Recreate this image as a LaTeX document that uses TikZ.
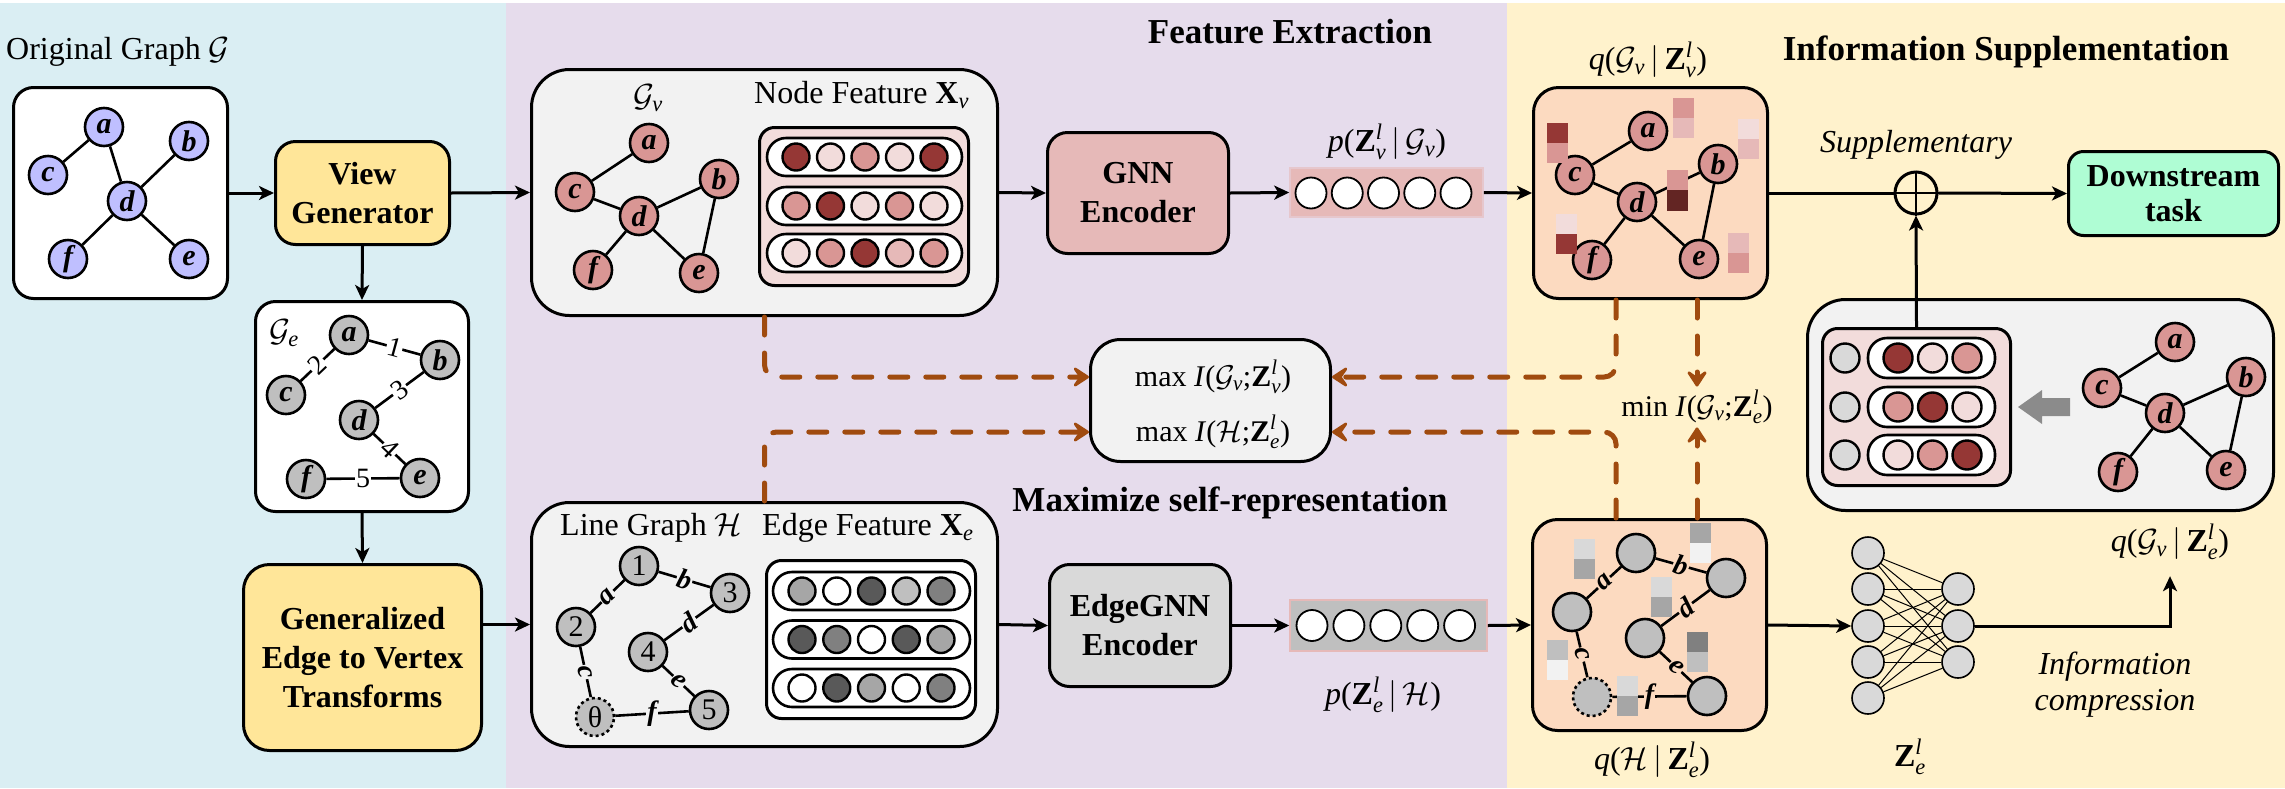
\RequirePackage{fix-cm}
\documentclass[tikz,border=0pt]{standalone}
\usepackage{amsmath}
\usepackage{fontspec}
\setmainfont{Liberation Serif}
\usetikzlibrary{arrows.meta}
\newcommand{\myfs}[1]{\fontsize{#1}{#1}\selectfont}
\newcommand{\Zl}[1]{\textbf{Z}^{\textit{l}}_{\textit{#1}}}
\newcommand{\myGv}{\mathcal{G}_{\textit{v}}}
\definecolor{bluebg}{RGB}{218,238,243}
\definecolor{purbg}{RGB}{230,220,236}
\definecolor{yelbg}{RGB}{255,242,204}
\definecolor{nblue}{RGB}{191,191,255}
\definecolor{vgy}{RGB}{255,230,153}
\definecolor{ngray}{RGB}{191,191,191}
\definecolor{boxg}{RGB}{242,242,242}
\definecolor{pk}{RGB}{217,150,148}
\definecolor{dr}{RGB}{149,55,53}
\definecolor{lp}{RGB}{242,220,219}
\definecolor{mp}{RGB}{230,185,184}
\definecolor{vdr}{RGB}{99,37,35}
\definecolor{peach}{RGB}{252,218,192}
\definecolor{mint}{RGB}{175,253,212}
\definecolor{brn}{RGB}{160,75,15}
\definecolor{ga}{RGB}{89,89,89}
\definecolor{gb}{RGB}{128,128,128}
\definecolor{gc}{RGB}{166,166,166}
\definecolor{gd}{RGB}{217,217,217}
\begin{document}
\begin{tikzpicture}[x=1pt,y=-1pt,
  bx/.style={draw, line width=3pt, rounded corners=18pt, inner sep=0pt},
  sz/.style n args={2}{minimum width=#1pt, minimum height=#2pt},
  gn/.style={circle, draw, line width=2.6pt, minimum size=38pt, inner sep=0pt, font=\myfs{30}\bfseries\itshape},
  hn/.style={circle, draw, line width=2.6pt, minimum size=38pt, inner sep=0pt, font=\myfs{30}, fill=ngray},
  ed/.style={line width=2.6pt},
  elab/.style={inner sep=1pt, font=\myfs{28}},
  hlab/.style={inner sep=1pt, font=\myfs{28}\bfseries\itshape},
  fc/.style={circle, draw, line width=2.4pt, minimum size=27pt, inner sep=0pt},
  rw/.style={draw, line width=2.6pt, fill=white, rounded corners=19pt, minimum height=38pt, inner sep=0pt},
  arr/.style={line width=3pt, -{Stealth[length=15pt,width=14pt,inset=4pt]}},
  darr/.style={draw=brn, line width=5pt, line cap=round, dash pattern=on 18pt off 18pt, rounded corners=12pt, -{Stealth[length=20pt,width=26pt,inset=9pt,round]}},
  lbl/.style={font=\myfs{32}, inner sep=2pt},
  ttl/.style={font=\myfs{35}\bfseries, inner sep=0pt},
  btxt/.style={font=\fontsize{32}{39}\selectfont\bfseries, align=center},
  nn/.style={circle, draw, line width=1.6pt, fill=gd, minimum size=32pt, inner sep=0pt}
]
\useasboundingbox (0,0) rectangle (2285,788);
\fill[white] (0,0) rectangle (2285,788);
\fill[bluebg] (0,3) rectangle (506,788);
\fill[purbg] (506,3) rectangle (1507,788);
\fill[yelbg] (1507,3) rectangle (2285,788);

% ---------- left panel ----------
\node[lbl, anchor=west] (otitle) at (4,52) {Original Graph $\mathcal{G}$};
\node[bx, fill=white, rounded corners=20pt, sz={214}{211}] (orig) at (120.5,193) {};
\node[gn, fill=nblue] (oa) at (104,127) {a};
\node[gn, fill=nblue] (ob) at (189,141) {b};
\node[gn, fill=nblue] (oc) at (48,175) {c};
\node[gn, fill=nblue] (od) at (127,201) {d};
\node[gn, fill=nblue] (oe) at (189,259) {e};
\node[gn, fill=nblue] (of) at (68,259) {f};
\draw[ed] (oc)--(oa) (oa)--(od) (od)--(ob) (od)--(of) (od)--(oe);

\node[bx, fill=vgy, rounded corners=20pt, sz={174}{103}, btxt] (vg) at (362.5,193) {View\\Generator};

\node[bx, fill=white, rounded corners=20pt, sz={213}{210}] (gebox) at (362,406.5) {};
\node[lbl] (gelab) at (284,333) {$\mathcal{G}_{\textit{e}}$};
\node[gn, fill=ngray] (ga) at (349,335) {a};
\node[gn, fill=ngray] (gb) at (440,360) {b};
\node[gn, fill=ngray] (gc) at (286,395) {c};
\node[gn, fill=ngray] (gd) at (359,420) {d};
\node[gn, fill=ngray] (ge) at (420,478) {e};
\node[gn, fill=ngray] (gf) at (306,479) {f};
\draw[ed] (ga) -- node[elab, fill=white, sloped] {1} (gb);
\draw[ed] (gc) -- node[elab, fill=white, sloped] {2} (ga);
\draw[ed] (gb) -- node[elab, fill=white, sloped] {3} (gd);
\draw[ed] (gd) -- node[elab, fill=white, sloped] {4} (ge);
\draw[ed] (gf) -- node[elab, fill=white] {5} (ge);

\node[bx, fill=vgy, rounded corners=26pt, sz={238}{186}, btxt] (gevt) at (362.5,657.5) {Generalized\\Edge to Vertex\\Transforms};

\draw[arr] (orig.east) -- (vg.west);
\draw[arr] (vg.south) -- (gebox.north);
\draw[arr] (gebox.south) -- (gevt.north);

% ---------- middle panel ----------
\node[ttl] (fetitle) at (1290,32) {Feature Extraction};
\node[ttl] (mstitle) at (1230,503) {Maximize self-representation};

\node[bx, fill=boxg, rounded corners=38pt, sz={466}{246}] (gv) at (764.5,192.5) {};
\node[lbl] (gvlab) at (648,98) {$\myGv$};
\node[lbl, anchor=west] (nflab) at (752,95) {Node Feature $\textbf{X}_{\textit{v}}$};
\node[gn, fill=pk] (va) at (649,143) {a};
\node[gn, fill=pk] (vb) at (719,179) {b};
\node[gn, fill=pk] (vc) at (575,192) {c};
\node[gn, fill=pk] (vd) at (639,216) {d};
\node[gn, fill=pk] (ve) at (699,273) {e};
\node[gn, fill=pk] (vf) at (593,270) {f};
\draw[ed] (vc)--(va) (vc)--(vd) (vd)--(vb) (vd)--(vf) (vd)--(ve) (vb)--(ve);

\node[bx, fill=lp, rounded corners=15pt, sz={209}{158}] (nfm) at (864,206.5) {};
\node[rw, minimum width=195pt] (nr1) at (864.5,157) {};
\node[rw, minimum width=195pt] (nr2) at (864.5,206) {};
\node[rw, minimum width=195pt] (nr3) at (864.5,253) {};
\foreach \c [count=\i from 0] in {dr,lp,pk,lp,dr} \node[fc, fill=\c] (nfa\i) at (796+34.5*\i,157) {};
\foreach \c [count=\i from 0] in {pk,dr,lp,pk,lp} \node[fc, fill=\c] (nfb\i) at (796+34.5*\i,206) {};
\foreach \c [count=\i from 0] in {lp,pk,dr,mp,pk} \node[fc, fill=\c] (nfc\i) at (796+34.5*\i,253) {};

\node[bx, fill=boxg, rounded corners=38pt, sz={466}{244}] (hbox) at (764.5,624.5) {};
\node[lbl, anchor=west] (hlabel) at (558,528) {Line Graph $\mathcal{H}$};
\node[lbl, anchor=west] (eflab) at (760,528) {Edge Feature $\textbf{X}_{\textit{e}}$};
\node[hn] (h1) at (639,566) {1};
\node[hn] (h2) at (576,627) {2};
\node[hn] (h3) at (730,593) {3};
\node[hn] (h4) at (648,652) {4};
\node[hn] (h5) at (709,710) {5};
\node[hn, dashed] (hth) at (595,717) {θ};
\draw[ed] (h2) -- node[hlab, fill=boxg, sloped] {a} (h1);
\draw[ed] (h1) -- node[hlab, fill=boxg, sloped] {b} (h3);
\draw[ed] (h2) -- node[hlab, fill=boxg, sloped] {c} (hth);
\draw[ed] (h3) -- node[hlab, fill=boxg, sloped] {d} (h4);
\draw[ed] (h4) -- node[hlab, fill=boxg, sloped] {e} (h5);
\draw[ed] (hth) -- node[hlab, fill=boxg] {f} (h5);

\node[bx, fill=white, rounded corners=15pt, sz={209}{158}] (efm) at (871,639.5) {};
\node[rw, minimum width=197pt] (er1) at (871.5,591) {};
\node[rw, minimum width=197pt] (er2) at (871.5,639.5) {};
\node[rw, minimum width=197pt] (er3) at (871.5,688) {};
\foreach \c [count=\i from 0] in {gc,white,ga,ngray,gb} \node[fc, fill=\c] (efa\i) at (802+34.75*\i,591) {};
\foreach \c [count=\i from 0] in {ga,gb,white,ga,gc} \node[fc, fill=\c] (efb\i) at (802+34.75*\i,639.5) {};
\foreach \c [count=\i from 0] in {white,ga,gc,white,gb} \node[fc, fill=\c] (efc\i) at (802+34.75*\i,688) {};

\node[bx, fill=mp, rounded corners=20pt, sz={181}{121}, btxt] (gnn) at (1138,193) {GNN\\Encoder};
\node[bx, fill=gd, rounded corners=20pt, sz={181}{122}, btxt] (egnn) at (1140,625.5) {EdgeGNN\\Encoder};

\node[fill=mp, draw=mp!60!purbg, line width=1.5pt, sz={193}{49}, inner sep=0pt] (vecv) at (1386.5,192.5) {};
\foreach \i in {0,...,4} \node[fc, fill=white, line width=1.8pt, minimum size=31pt] (cv\i) at (1311+36.25*\i,193) {};
\node[lbl] (pv) at (1387,142) {\textit{p}($\Zl{v}\,|\,\myGv$)};

\node[fill=ngray, draw=mp, line width=1.5pt, sz={197}{51}, inner sep=0pt] (vece) at (1388.5,625.5) {};
\foreach \i in {0,...,4} \node[fc, fill=white, line width=1.8pt, minimum size=31pt] (ce\i) at (1312+36.9*\i,625.5) {};
\node[lbl] (pe) at (1383,695) {\textit{p}($\Zl{e}\,|\,\mathcal{H}$)};

\node[bx, fill=boxg, rounded corners=30pt, sz={240}{122}] (mx) at (1210.5,400.5) {};
\node[font=\myfs{30}] (mx1) at (1213,377) {max \textit{I}($\myGv$;$\Zl{v}$)};
\node[font=\myfs{30}] (mx2) at (1213,432) {max \textit{I}($\mathcal{H}$;$\Zl{e}$)};

\draw[arr] (vg.east) -- (gv.west);
\draw[arr] (gevt.east |- hbox.west) -- (hbox.west);
\draw[arr] (gv.east) -- (gnn.west);
\draw[arr] (gnn.east) -- (vecv.west);
\draw[arr] (hbox.east) -- (egnn.west);
\draw[arr] (egnn.east) -- (vece.west);

% ---------- right panel ----------
\node[ttl] (istitle) at (2006,52) {Information Supplementation};

\node[bx, fill=peach, rounded corners=25pt, sz={234}{211}] (qv) at (1650.5,193) {};
\node[lbl] (qvlab) at (1648,60) {\textit{q}($\myGv\,|\,\Zl{v}$)};
\node[gn, fill=pk] (qa) at (1648,131) {a};
\node[gn, fill=pk] (qb) at (1718,164) {b};
\node[gn, fill=pk] (qc) at (1575,175) {c};
\node[gn, fill=pk] (qd) at (1637,202) {d};
\node[gn, fill=pk] (qe) at (1699,259) {e};
\node[gn, fill=pk] (qf) at (1592,260) {f};
\draw[ed] (qc)--(qa) (qc)--(qd) (qd)--(qb) (qd)--(qf) (qd)--(qe) (qb)--(qe);
\fill[dr] (1547,123) rectangle (1568,143); \fill[pk] (1547,143) rectangle (1568,163);
\fill[pk] (1673,98) rectangle (1694,118); \fill[mp] (1673,118) rectangle (1694,138);
\fill[lp] (1738,119) rectangle (1759,139); \fill[mp] (1738,139) rectangle (1759,159);
\fill[pk] (1667,170) rectangle (1688,190); \fill[vdr] (1667,190) rectangle (1688,211);
\fill[lp] (1556,214) rectangle (1577,234); \fill[dr] (1556,234) rectangle (1577,254);
\fill[mp] (1728,233) rectangle (1749,253); \fill[pk] (1728,253) rectangle (1749,273);

\node[bx, fill=peach, rounded corners=25pt, sz={234}{211}] (qh) at (1649.5,625) {};
\node[lbl] (qhlab) at (1652,760) {\textit{q}($\mathcal{H}\,|\,\Zl{e}$)};
\node[hn] (qh1) at (1636,553) {};
\node[hn] (qh2) at (1572,612) {};
\node[hn] (qh3) at (1726,578) {};
\node[hn] (qh4) at (1645,638) {};
\node[hn] (qh5) at (1707,696) {};
\node[hn, dashed] (qhth) at (1592,697) {};
\draw[ed] (qh2) -- node[hlab, fill=peach, sloped] {a} (qh1);
\draw[ed] (qh1) -- node[hlab, fill=peach, sloped] {b} (qh3);
\draw[ed] (qh2) -- node[hlab, fill=peach, sloped] {c} (qhth);
\draw[ed] (qh3) -- node[hlab, fill=peach, sloped] {d} (qh4);
\draw[ed] (qh4) -- node[hlab, fill=peach, sloped] {e} (qh5);
\draw[ed] (qhth) -- node[hlab, fill=peach] {f} (qh5);
\fill[gd] (1574,539) rectangle (1595,559); \fill[gc] (1574,559) rectangle (1595,579);
\fill[gc] (1690,523) rectangle (1711,543); \fill[boxg] (1690,543) rectangle (1711,563);
\fill[gd] (1651,577) rectangle (1672,597); \fill[gc] (1651,597) rectangle (1672,617);
\fill[ngray] (1547,640) rectangle (1568,660); \fill[boxg] (1547,660) rectangle (1568,680);
\fill[gd] (1617,676) rectangle (1638,696); \fill[gc] (1617,696) rectangle (1638,716);
\fill[gb] (1687,632) rectangle (1708,652); \fill[ngray] (1687,652) rectangle (1708,672);

\draw[arr] (vecv.east) -- (qv.west);
\draw[arr] (vece.east) -- (qh.west);

\node[font=\myfs{30}] (mini) at (1697,407) {min \textit{I}($\myGv$;$\Zl{e}$)};

\draw[darr] (gv.south) |- ([yshift=23.5pt]mx.west);
\draw[darr] (hbox.north) |- ([yshift=-31.5pt]mx.west);
\draw[darr] ([xshift=-34.5pt]qv.south) |- ([yshift=23.5pt]mx.east);
\draw[darr] ([xshift=-33.5pt]qh.north) |- ([yshift=-31.5pt]mx.east);
\draw[darr] (mini.north |- qv.south) -- (mini.north);
\draw[darr] (mini.south |- qh.north) -- (mini.south);

\node[lbl, font=\myfs{32}\itshape] (supp) at (1916,145) {Supplementary};
\node[circle, draw, line width=3pt, minimum size=42pt, inner sep=0pt] (plus) at (1916,193) {};
\draw[line width=2pt] (plus.north) -- (plus.south) (plus.west) -- (plus.east);
\node[bx, fill=mint, rounded corners=15pt, sz={210}{84}, font=\fontsize{32}{35}\selectfont\bfseries, align=center] (ds) at (2173.5,193.5) {Downstream\\task};
\draw[line width=3pt] (qv.east) -- (plus.west);
\draw[arr] (plus.east) -- (ds.west);

\node[bx, fill=boxg, rounded corners=38pt, sz={466}{211}] (sbox) at (2040.5,405) {};
\node[bx, fill=lp, rounded corners=15pt, sz={188}{157}] (smat) at (1916.5,407) {};
\node[rw, minimum width=127pt, minimum height=40pt] (sr1) at (1931.5,358) {};
\node[rw, minimum width=127pt, minimum height=40pt] (sr2) at (1931.5,407) {};
\node[rw, minimum width=127pt, minimum height=40pt] (sr3) at (1931.5,455) {};
\foreach \yy [count=\k] in {358,407,455} \node[fc, fill=gd, minimum size=29pt] (sg\k) at (1845,\yy) {};
\foreach \c [count=\i from 0] in {dr,lp,pk} \node[fc, fill=\c, minimum size=29pt] (sfa\i) at (1898+34.5*\i,358) {};
\foreach \c [count=\i from 0] in {pk,dr,lp} \node[fc, fill=\c, minimum size=29pt] (sfb\i) at (1898+34.5*\i,407) {};
\foreach \c [count=\i from 0] in {lp,pk,dr} \node[fc, fill=\c, minimum size=29pt] (sfc\i) at (1898+34.5*\i,455) {};
\fill[gb, opacity=0.9] (2070,398) -- (2042,398) -- (2042,390) -- (2018,407) -- (2042,424) -- (2042,416) -- (2070,416) -- cycle;
\node[gn, fill=pk] (sa) at (2175,342) {a};
\node[gn, fill=pk] (sb) at (2246,377) {b};
\node[gn, fill=pk] (sc) at (2102,388) {c};
\node[gn, fill=pk] (sd) at (2165,413) {d};
\node[gn, fill=pk] (se) at (2226,470) {e};
\node[gn, fill=pk] (sf) at (2118,472) {f};
\draw[ed] (sc)--(sa) (sc)--(sd) (sd)--(sb) (sd)--(sf) (sd)--(se) (sb)--(se);
\draw[arr] (smat.north) -- (plus.south);
\node[lbl] (qgze) at (2170,542) {\textit{q}($\myGv\,|\,\Zl{e}$)};

% neural net
\foreach \yy [count=\k] in {553,589,626,662,698} \node[nn] (na\k) at (1868,\yy) {};
\foreach \yy [count=\k] in {589,626,662} \node[nn] (nb\k) at (1958,\yy) {};
\foreach \i in {1,...,5} \foreach \j in {1,2,3} \draw[line width=1pt] (na\i) -- (nb\j);
\node[lbl] (zel) at (1910,757) {$\Zl{e}$};
\draw[arr] (qh.east) -- (na3.west);
\draw[arr] (nb2.east) -| ([yshift=-14pt]qgze.south);
\node[font=\fontsize{32}{36}\selectfont\itshape, align=center] (ic) at (2115,685) {Information\\compression};
\end{tikzpicture}
\end{document}
